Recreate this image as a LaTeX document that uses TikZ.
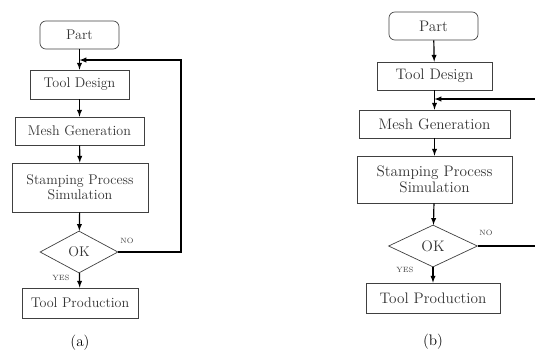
\documentclass[tikz,border=0pt]{standalone}
\usepackage{tikz}
\usetikzlibrary{shapes.geometric}

\begin{document}
\begin{tikzpicture}[x=0.03cm,y=-0.03cm,>=latex,
	box/.style={draw=black!75,line width=0.6pt,inner sep=0pt,text=black!80,font=\fontsize{12}{13}\selectfont},
	startbox/.style={box,rounded corners=5pt},
	decision/.style={box,diamond,aspect=1.85},
	link/.style={->,line width=1pt,black},
	answer/.style={inner sep=0pt,text=black!75,font=\fontsize{6.5}{7}\selectfont},
	caption/.style={inner sep=0pt,font=\fontsize{13}{15}\selectfont}]
	\useasboundingbox (0,0) rectangle (535,354);
	
	%panel (a): loop goes back to tool design
	\node[startbox,minimum width=2.37cm,minimum height=0.84cm] (parta) at (79.5,35) {Part};
	\node[box,minimum width=2.97cm,minimum height=0.87cm] (toola) at (79.5,84.5) {Tool Design};
	\node[box,minimum width=3.87cm,minimum height=0.84cm] (mesha) at (79.5,131) {Mesh Generation};
	\node[box,minimum width=4.08cm,minimum height=1.47cm,align=center] (stampa) at (80,187.5) {Stamping Process\\Simulation};
	\node[decision,minimum width=2.34cm,minimum height=1.26cm] (oka) at (79,252) {OK};
	\node[box,minimum width=3.48cm,minimum height=0.9cm] (proda) at (80,303) {Tool Production};
	\coordinate (cornera) at (181,252);
	\coordinate (topa) at (181,60);
	\coordinate (joina) at (79.5,60);
	
	\draw[link] (parta) -- (toola);
	\draw[link] (toola) -- (mesha);
	\draw[link] (mesha) -- (stampa);
	\draw[link] (stampa) -- (oka);
	\draw[link] (oka) -- (proda);
	\draw[link] (oka.east) -- (cornera) -- (topa) -- (joina);
	\node[answer] (noa) at (127,241) {NO};
	\node[answer] (yesa) at (61,278) {YES};
	\node[caption] (capa) at (80,343) {(a)};
	
	%panel (b): loop goes back to mesh generation
	\node[startbox,minimum width=2.67cm,minimum height=0.84cm,font=\fontsize{13}{14}\selectfont] (partb) at (433.5,26) {Part};
	\node[box,minimum width=3.45cm,minimum height=0.84cm,font=\fontsize{13}{14}\selectfont] (toolb) at (434.5,76) {Tool Design};
	\node[box,minimum width=4.53cm,minimum height=0.84cm,font=\fontsize{13}{14}\selectfont] (meshb) at (434.5,124) {Mesh Generation};
	\node[box,minimum width=4.65cm,minimum height=1.41cm,align=center,font=\fontsize{13}{14}\selectfont] (stampb) at (434.5,179.5) {Stamping Process\\Simulation};
	\node[decision,minimum width=2.67cm,minimum height=1.26cm,font=\fontsize{13}{14}\selectfont] (okb) at (433,246) {OK};
	\node[box,minimum width=4.02cm,minimum height=0.9cm,font=\fontsize{13}{14}\selectfont] (prodb) at (433,298) {Tool Production};
	\coordinate (edgeb) at (535,246);
	\coordinate (backb) at (535,99);
	\coordinate (joinb) at (434.5,99);
	
	\draw[link] (partb) -- (toolb);
	\draw[link] (toolb) -- (meshb);
	\draw[link] (meshb) -- (stampb);
	\draw[link] (stampb) -- (okb);
	\draw[link] (okb) -- (prodb);
	\draw[line width=1pt] (okb.east) -- (edgeb);
	\draw[link] (backb) -- (joinb);
	\node[answer] (nob) at (486,233) {NO};
	\node[answer] (yesb) at (405,270) {YES};
	\node[caption] (capb) at (433,342) {(b)};
\end{tikzpicture}
\end{document}
